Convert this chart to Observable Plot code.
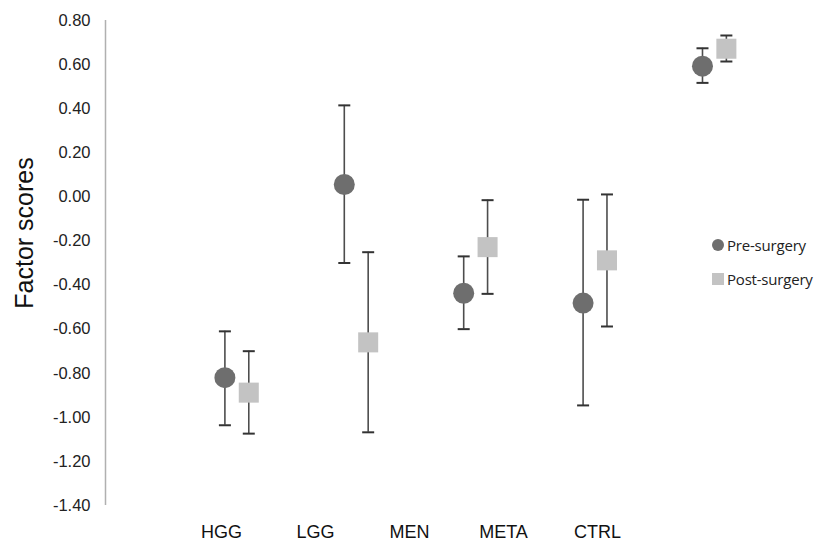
<!DOCTYPE html>
<html>
<head>
<meta charset="utf-8">
<script src="https://cdn.jsdelivr.net/npm/d3@7"></script>
<script src="https://cdn.jsdelivr.net/npm/@observablehq/plot@0.6"></script>
<style>
  html, body { margin: 0; padding: 0; background: #fff; }
  #wrap { position: relative; width: 819px; height: 543px; overflow: hidden; font-family: "Liberation Sans", Arial, sans-serif; }
  #wrap svg { display: block; }
  #legend { position: absolute; left: 712px; top: 235px; font-family: "Open Sans", "Noto Sans", sans-serif; font-size: 15px; color: #222; letter-spacing: -0.2px; }
  #legend .row { display: flex; align-items: center; height: 20px; margin-bottom: 14px; }
  #legend .sw { width: 12px; height: 12px; margin-right: 3px; flex: none; }
</style>
</head>
<body>
<div id="wrap"></div>
<script>
// ---- data ----
const categories = ["HGG", "LGG", "MEN", "META", "CTRL"];
const series = ["Pre-surgery", "Post-surgery"];
const preMean  = [-0.82, 0.056, -0.437, -0.482, 0.593];
const preLow   = [-1.036, -0.30, -0.60, -0.946, 0.517];
const preHigh  = [-0.61, 0.415, -0.27, -0.013, 0.674];
const postMean = [-0.888, -0.66, -0.228, -0.288, 0.672];
const postLow  = [-1.074, -1.068, -0.44, -0.588, 0.614];
const postHigh = [-0.70, -0.251, -0.015, 0.011, 0.732];
const yTicks = [-1.4, -1.2, -1.0, -0.8, -0.6, -0.4, -0.2, 0.0, 0.2, 0.4, 0.6, 0.8];

const colors = {"Pre-surgery": "#6e6e6e", "Post-surgery": "#c3c3c3"};
const dodge = {"Pre-surgery": 0, "Post-surgery": 0.2};

const rows = [];
categories.forEach((c, i) => {
  rows.push({cat: c, series: series[0], x: i + dodge[series[0]], mean: preMean[i], low: preLow[i], high: preHigh[i]});
  rows.push({cat: c, series: series[1], x: i + dodge[series[1]], mean: postMean[i], low: postLow[i], high: postHigh[i]});
});
const pre = rows.filter(d => d.series === series[0]);
const post = rows.filter(d => d.series === series[1]);

const cap = {draw(ctx, size) { const w = Math.sqrt(size / Math.PI); ctx.moveTo(-w, 0); ctx.lineTo(w, 0); }};

const main = Plot.plot({
  width: 819, height: 515,
  marginLeft: 105, marginRight: 0, marginTop: 20, marginBottom: 10,
  style: {fontFamily: "Liberation Sans, Arial, sans-serif", background: "#fff"},
  x: {domain: [-1, 4.98], axis: null},
  y: {domain: [yTicks[0], yTicks[yTicks.length - 1]], axis: null},
  marks: [
    Plot.axisY(yTicks, {tickSize: 0, tickPadding: 15, tickFormat: d => d.toFixed(2), fontSize: 16.5, fill: "#222", label: null}),
    Plot.ruleX([-1], {y1: yTicks[0], y2: yTicks[yTicks.length - 1], stroke: "#b0b0b0", strokeWidth: 1.5}),
    Plot.ruleX(rows, {x: "x", y1: "low", y2: "high", stroke: "#4d4d4d", strokeWidth: 1.6}),
    Plot.dot(rows, {x: "x", y: "low", symbol: cap, r: 6, stroke: "#333", strokeWidth: 2}),
    Plot.dot(rows, {x: "x", y: "high", symbol: cap, r: 6, stroke: "#333", strokeWidth: 2}),
    Plot.dot(pre, {x: "x", y: "mean", symbol: "circle", r: 10.5, fill: colors[series[0]]}),
    Plot.dot(post, {x: "x", y: "mean", symbol: "square", r: 11.3, fill: colors[series[1]]}),
    Plot.text(["Factor scores"], {frameAnchor: "left", textAnchor: "middle", rotate: -90, dx: -81, dy: -30, fontSize: 25, fill: "#111"})
  ]
});

const labels = Plot.plot({
  width: 819, height: 28,
  marginLeft: 174, marginRight: 175, marginTop: 0, marginBottom: 0,
  style: {fontFamily: "Liberation Sans, Arial, sans-serif", background: "#fff"},
  x: {type: "point", domain: categories, padding: 0.5, axis: null},
  marks: [
    Plot.text(categories, {x: d => d, frameAnchor: "middle", dy: 3, fontSize: 18, fill: "#111"})
  ]
});

const wrap = document.getElementById("wrap");
wrap.appendChild(main);
wrap.appendChild(labels);

const legend = document.createElement("div");
legend.id = "legend";
series.forEach(s => {
  const row = document.createElement("div");
  row.className = "row";
  const sw = document.createElement("span");
  sw.className = "sw";
  sw.style.background = colors[s];
  if (s === series[0]) sw.style.borderRadius = "50%";
  const t = document.createElement("span");
  t.textContent = s;
  row.appendChild(sw);
  row.appendChild(t);
  legend.appendChild(row);
});
wrap.appendChild(legend);
</script>
</body>
</html>
